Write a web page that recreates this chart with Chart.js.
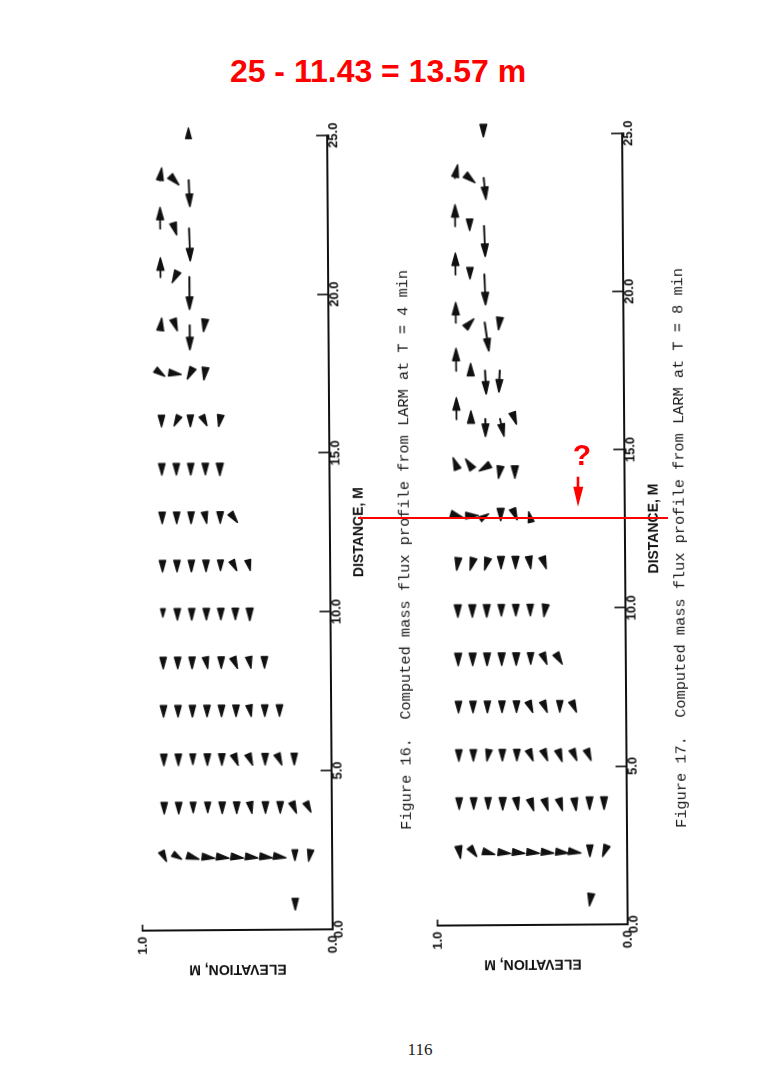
<!DOCTYPE html>
<html>
<head>
<meta charset="utf-8">
<title>Computed mass flux profiles from LARM</title>
<script src="https://cdn.jsdelivr.net/npm/chart.js@4.4.1/dist/chart.umd.min.js"></script>
<style>
 html,body{margin:0;padding:0;background:#fff;}
 body{width:758px;height:1090px;position:relative;overflow:hidden;}
 #title{position:absolute;left:0;top:55px;width:756px;text-align:center;color:#ff0000;font:bold 32px/32px "Liberation Sans",Arial,sans-serif;white-space:nowrap;}
 #page{position:absolute;left:0;top:0;width:758px;height:1090px;transform-origin:379px 545px;transform:rotate(-0.4deg);}
 #land{position:absolute;left:0;top:1090px;width:1090px;height:758px;transform-origin:0 0;transform:rotate(-90deg);}
 #land canvas{position:absolute;}
 .cap{position:absolute;font:15.3px/16px "Liberation Mono","Courier New",monospace;color:#1a1a1a;white-space:pre;}
 #pnum{position:absolute;left:380px;top:1041px;width:80px;text-align:center;font:17px/17px "Liberation Serif","Times New Roman",serif;color:#222;}
 #redline{position:absolute;left:358px;top:516.7px;width:310px;height:2.6px;background:#ff0000;}
 #qmark{position:absolute;left:562px;top:439.6px;width:40px;text-align:center;color:#ff0000;font:bold 30px/30px "Liberation Sans",Arial,sans-serif;}
 #qarrow{position:absolute;left:568px;top:474px;}
</style>
</head>
<body>
<div id="title">25 - 11.43 = 13.57 m</div>
<div id="page">
  <div id="land">
    <canvas id="fig16" width="880" height="300" style="left:101px;top:120px"></canvas>
    <canvas id="fig17" width="880" height="300" style="left:104px;top:415px"></canvas>
    <div class="cap" style="left:260px;top:397px">Figure 16.  Computed mass flux profile from LARM at T = 4 min</div>
    <div class="cap" style="left:260px;top:672px">Figure 17.  Computed mass flux profile from LARM at T = 8 min</div>
  </div>
</div>
<div id="pnum">116</div>
<div id="redline"></div>
<div id="qmark">?</div>
<svg id="qarrow" width="20" height="36" viewBox="0 0 20 36">
  <line x1="10" y1="2.7" x2="10" y2="16" stroke="#ff0000" stroke-width="2.6"/>
  <polygon points="5.3,12.7 15.3,12.7 10,32.7" fill="#ff0000"/>
</svg>
<script>
// ---- data ----
const n = null;
// distance of each computational segment (m)
const rowDist = [0.76, 2.29, 3.81, 5.33, 6.86, 8.38, 9.91, 11.43, 12.95, 14.48, 16.00, 17.53, 19.05, 20.57, 22.10, 23.62, 25.15];
// elevation of each layer centre (m)
const layerElev = [0.882, 0.806, 0.730, 0.653, 0.577, 0.501, 0.425, 0.349, 0.272, 0.196, 0.120];
const distTicks = [0, 5, 10, 15, 20, 25];
const elevTicks = [0, 1];

// Figure 16 (T = 4 min): arrow components, along distance (U) and elevation (W)
const fig16U = [
 [n,n,n,n,n,n,n,n,n,-0.16],
 [-0.13,-0.06,-0.06,-0.03,-0.03,-0.03,-0.03,-0.03,-0.03,-0.13,-0.16],
 [-0.16,-0.16,-0.13,-0.13,-0.16,-0.16,-0.16,-0.16,-0.16,-0.16,-0.13],
 [-0.16,-0.16,-0.13,-0.16,-0.16,-0.16,-0.16,-0.16,-0.16,-0.16],
 [-0.16,-0.16,-0.16,-0.16,-0.16,-0.16,-0.16,-0.16,-0.16],
 [-0.16,-0.16,-0.16,-0.16,-0.16,-0.16,-0.16,-0.16],
 [-0.06,-0.16,-0.16,-0.16,-0.16,-0.16,-0.19],
 [-0.16,-0.16,-0.16,-0.16,-0.13,-0.13,-0.13],
 [-0.16,-0.16,-0.16,-0.16,-0.16,-0.13],
 [-0.16,-0.16,-0.16,-0.16,-0.19],
 [-0.16,-0.13,-0.16,-0.13,-0.16],
 [-0.09,-0.03,-0.19,-0.22],
 [0.25,-0.19,-0.79,-0.22],
 [0.63,-0.19,-1.04],
 [0.69,-0.22,-1.04],
 [0.41,-0.16,-0.85],
 [n,n,0.13]
];
const fig16W = [
 [n,n,n,n,n,n,n,n,n,0],
 [-0.011,-0.016,-0.032,-0.037,-0.037,-0.037,-0.037,-0.037,-0.032,0,0.005],
 [0,0,0,0,0,0,-0.005,0,0,-0.011,-0.011],
 [0,0,0,0,0,-0.011,-0.011,0,-0.011,0],
 [0,0,0,0,0,0,-0.005,0,0],
 [0,0,0,-0.005,0,-0.011,-0.005,0],
 [0,0,0,0,0,0,0],
 [0,0,0,0,0,-0.011,-0.005],
 [0,0,0,-0.005,0,-0.016],
 [0,0,0,0,0],
 [0,0.011,0,-0.011,0.005],
 [-0.021,-0.032,0.016,0.005],
 [-0.005,-0.011,0,0.005],
 [0,0.016,0],
 [0,-0.011,-0.005],
 [-0.011,-0.026,-0.005],
 [n,n,0]
];

// Figure 17 (T = 8 min)
const fig17U = [
 [n,n,n,n,n,n,n,n,n,-0.19],
 [-0.19,-0.13,-0.06,-0.03,-0.03,-0.03,-0.03,-0.03,-0.03,-0.16,-0.16],
 [-0.16,-0.16,-0.16,-0.19,-0.19,-0.22,-0.22,-0.22,-0.22,-0.19,-0.19],
 [-0.16,-0.16,-0.16,-0.16,-0.16,-0.16,-0.16,-0.19,-0.16,-0.16],
 [-0.16,-0.16,-0.16,-0.16,-0.16,-0.16,-0.16,-0.16,-0.16],
 [-0.19,-0.19,-0.19,-0.19,-0.19,-0.16,-0.16,-0.16],
 [-0.19,-0.19,-0.19,-0.16,-0.16,-0.16,-0.19],
 [-0.22,-0.22,-0.22,-0.19,-0.19,-0.19,-0.19],
 [-0.06,0,0.06,-0.19,-0.16,0.13],
 [0.32,0.28,-0.13,-0.38,-0.38],
 [0.70,0.28,-0.57,-0.57,-0.19],
 [0.73,0.25,-0.76,-0.70],
 [0.66,0.13,-0.92,-0.25],
 [0.70,-0.16,-0.98],
 [0.70,-0.16,-0.98],
 [0.44,-0.16,-0.70],
 [n,n,-0.25]
];
const fig17W = [
 [n,n,n,n,n,n,n,n,n,0.005],
 [-0.005,-0.016,-0.037,-0.042,-0.042,-0.042,-0.042,-0.042,-0.032,0,0.011],
 [0,0,0,0,-0.005,-0.011,-0.011,-0.011,-0.005,0,0],
 [0,0,0.005,0,0,-0.011,-0.011,-0.011,-0.011,-0.011],
 [0,0,0,0,0,-0.011,-0.011,0,-0.011],
 [0,0,0,0,0,0,-0.011,-0.016],
 [0,0,0,0,0,0,0.005],
 [0.005,0.011,0.011,0,0,-0.005,-0.011],
 [-0.032,-0.037,-0.016,0,-0.011,0.005],
 [0.021,0.032,0.037,0.011,0],
 [0,0,0,-0.021,-0.011],
 [0,0,-0.005,0.005],
 [0,-0.021,-0.021,0.005],
 [0,0,-0.005],
 [0,0,-0.005],
 [-0.016,-0.032,-0.011],
 [n,n,0]
];

// ---- build ----
function vectors(U, W) {
  const pts = [];
  U.forEach((row, k) => row.forEach((u, j) => {
    if (u === null) return;
    pts.push({ x: rowDist[k], y: layerElev[j], u: u, w: W[k][j] });
  }));
  return pts;
}

const fluxArrows = {
  id: 'fluxArrows',
  afterDatasetsDraw(chart) {
    const ctx = chart.ctx, xs = chart.scales.x, ys = chart.scales.y;
    ctx.save();
    ctx.fillStyle = '#111';
    ctx.strokeStyle = '#111';
    ctx.lineJoin = 'round';
    ctx.lineCap = 'round';
    chart.data.datasets.forEach(ds => ds.data.forEach(p => {
      const x0 = xs.getPixelForValue(p.x), y0 = ys.getPixelForValue(p.y);
      const x1 = xs.getPixelForValue(p.x + p.u), y1 = ys.getPixelForValue(p.y + p.w);
      const dx = x1 - x0, dy = y1 - y0, L = Math.hypot(dx, dy);
      if (L < 0.01) return;
      const ux = dx / L, uy = dy / L;
      const h = Math.min(13, 7 + L), hw = h * 0.26;
      const bx = x1 - ux * h, by = y1 - uy * h;
      if (L > h) {
        ctx.lineWidth = 1.9;
        ctx.beginPath(); ctx.moveTo(x0, y0); ctx.lineTo(bx, by); ctx.stroke();
      }
      ctx.lineWidth = 1.4;
      ctx.beginPath();
      ctx.moveTo(x1 - ux * 0.6, y1 - uy * 0.6);
      ctx.lineTo(bx - uy * hw, by + ux * hw);
      ctx.lineTo(bx + uy * hw, by - ux * hw);
      ctx.closePath();
      ctx.fill(); ctx.stroke();
    }));
    ctx.restore();
  }
};

const ink = '#111';
const tickFont = { family: 'Liberation Sans', size: 13, weight: 'bold' };
const titleFont = { family: 'Liberation Sans', size: 14, weight: 'bold' };

function makeChart(id, U, W, padRight) {
  return new Chart(document.getElementById(id), {
    type: 'scatter',
    data: { datasets: [{ label: id, data: vectors(U, W), pointRadius: 0, pointHoverRadius: 0 }] },
    options: {
      responsive: false, animation: false, devicePixelRatio: 1, events: [],
      layout: { padding: { left: 5, right: padRight, top: 20, bottom: 0 } },
      plugins: { legend: { display: false }, tooltip: { enabled: false }, title: { display: false } },
      scales: {
        x: {
          type: 'linear', position: 'bottom', min: 0, max: 25,
          afterBuildTicks: s => { s.ticks = distTicks.map(v => ({ value: v })); },
          afterFit: s => { s.height = 90; },
          border: { display: true, color: ink, width: 2 },
          grid: { drawOnChartArea: false, drawTicks: true, tickLength: -11, color: ink, lineWidth: 1.6 },
          ticks: { padding: 10, color: ink, font: tickFont, autoSkip: false, maxRotation: 0, minRotation: 0,
                   callback: v => Number(v).toFixed(1) },
          title: { display: true, text: 'DISTANCE, M', color: ink, font: titleFont, padding: { top: 0, bottom: 52 } }
        },
        y: {
          type: 'linear', position: 'left', min: 0, max: 1,
          afterBuildTicks: s => { s.ticks = elevTicks.map(v => ({ value: v })); },
          afterFit: s => { s.width = 55; },
          border: { display: true, color: ink, width: 2 },
          grid: { drawOnChartArea: false, drawTicks: true, tickLength: -6, color: ink, lineWidth: 1.6 },
          ticks: { padding: 12, color: ink, font: tickFont, callback: v => Number(v).toFixed(1) },
          title: { display: true, text: 'ELEVATION, M', color: ink, font: titleFont, padding: { top: 7.6, bottom: 0 } }
        }
      }
    },
    plugins: [fluxArrows]
  });
}

makeChart('fig16', fig16U, fig16W, 26);
makeChart('fig17', fig17U, fig17W, 29);
</script>
</body>
</html>
